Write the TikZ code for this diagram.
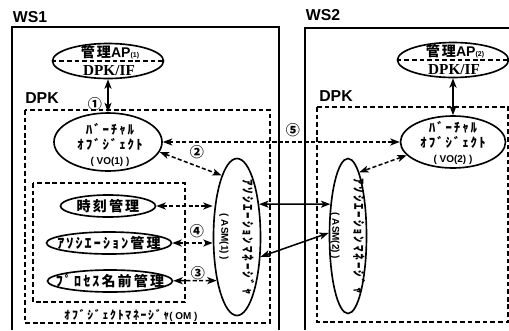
\documentclass[tikz,border=0pt]{standalone}
\usepackage{fontspec}
\setmainfont{Liberation Serif}
\setsansfont{Liberation Sans}
\newfontfamily\jpfont[LetterSpace=15]{Noto Sans CJK JP}
\newfontfamily\jpplain{Noto Sans CJK JP}
\usepackage{tikz}
\usetikzlibrary{arrows.meta, positioning, calc, shapes.geometric}
\tikzset{%
    wsframe/.style={%
        line width=1.7pt
    },
    dpkframe/.style={%
        draw, line width=1.3pt, dash pattern=on 4pt off 2.5pt
    },
    oval/.style 2 args={%
        draw, ellipse, line width=1.4pt,
        minimum width=#1*\xdist cm, minimum height=#2*\ydist cm
    },
    link/.style={%
        line width=1.3pt,
        {Stealth[length=8pt, width=6pt, inset=2pt]}-{Stealth[length=8pt, width=6pt, inset=2pt]}
    },
    dlink/.style={%
        link, dash pattern=on 3.5pt off 2pt
    },
}
\newcommand{\smalltag}[1]{{\sffamily\bfseries\fontsize{8.5}{10}\selectfont #1}}
\newcommand{\apno}[1]{{\sffamily\bfseries\fontsize{6}{7}\selectfont #1}}

\begin{document}
\begin{tikzpicture}[
        every node/.style={inner sep=0},
        wslabel/.style={font=\sffamily\bfseries\fontsize{13.5}{14}\selectfont},
        apif/.style={font=\rmfamily\bfseries\fontsize{13}{14}\selectfont},
        kanji/.style={font=\jpfont\bfseries\fontsize{12}{14}\selectfont},
        kana/.style={font=\jpfont\bfseries\fontsize{11}{13}\selectfont, align=center},
        num/.style={font=\jpplain\bfseries\fontsize{12}{12}\selectfont},
    ]
        \def\xdist{0.03}
        \def\ydist{0.03}

        \useasboundingbox (0,0) rectangle (509*\xdist, -330*\ydist);

        \draw[wsframe] (12*\xdist, -330*\ydist) -- (12*\xdist, -27*\ydist) -- (279*\xdist, -27*\ydist) -- (279*\xdist, -330*\ydist);
        \draw[wsframe] (305*\xdist, -330*\ydist) -- (305*\xdist, -28*\ydist) -- (509*\xdist, -28*\ydist);
        \draw[dpkframe] (25*\xdist, -110*\ydist) rectangle (270*\xdist, -323*\ydist);
        \draw[dpkframe] (317*\xdist, -107*\ydist) rectangle (508*\xdist, -322*\ydist);
        \draw[dpkframe] (33*\xdist, -183*\ydist) rectangle (185*\xdist, -302*\ydist);

        \node[wslabel] (ws1) at (30*\xdist, -17*\ydist) {WS1};
        \node[wslabel] (ws2) at (323*\xdist, -15*\ydist) {WS2};
        \node[wslabel] (dpk1) at (42*\xdist, -98*\ydist) {DPK};
        \node[wslabel] (dpk2) at (336*\xdist, -96*\ydist) {DPK};

        \node[oval={111}{35}] (ap1) at (108*\xdist, -61*\ydist) {};
        \node[kanji] (ap1name) at (110*\xdist, -52*\ydist) {管理{\sffamily AP}\apno{(1)}};
        \node[apif] (ap1if) at (109*\xdist, -71*\ydist) {DPK/IF};
        \draw[dpkframe, line width=1.2pt] (ap1.west) -- (ap1.east);

        \node[oval={111}{35}] (ap2) at (453*\xdist, -60*\ydist) {};
        \node[kanji] (ap2name) at (455*\xdist, -51*\ydist) {管理{\sffamily AP}\apno{(2)}};
        \node[apif] (ap2if) at (454*\xdist, -70*\ydist) {DPK/IF};
        \draw[dpkframe, line width=1.2pt] (ap2.west) -- (ap2.east);

        \node[oval={108}{58}] (vo1) at (108*\xdist, -142*\ydist) {};
        \node[kana] (vo1txt) at (110*\xdist, -145*\ydist) {ﾊﾞｰﾁｬﾙ\\ｵﾌﾞｼﾞｪｸﾄ\\\smalltag{( VO(1) )}};
        \node[oval={105}{52}] (vo2) at (453*\xdist, -142*\ydist) {};
        \node[kana] (vo2txt) at (453*\xdist, -143*\ydist) {ﾊﾞｰﾁｬﾙ\\ｵﾌﾞｼﾞｪｸﾄ\\\smalltag{( VO(2) )}};

        \node[oval={47}{157}] (asm1) at (237*\xdist, -237*\ydist) {};
        \node[kana, rotate=-90] (asm1txt) at (asm1) {ｱｿｼｴｰｼｮﾝﾏﾈｰｼﾞｬ\\[6pt]\smalltag{( ASM(1) )}};
        \node[oval={37}{155}] (asm2) at (348*\xdist, -236*\ydist) {};
        \node[kana, rotate=-90] (asm2txt) at (asm2) {ｱｿｼｴｰｼｮﾝﾏﾈｰｼﾞｬ\\[6pt]\smalltag{( ASM(2) )}};

        \node[oval={95}{22}] (tokei) at (108*\xdist, -206*\ydist) {};
        \node[kanji] (tokeitxt) at (tokei) {時刻管理};
        \node[oval={125}{22}] (assoc) at (109*\xdist, -243*\ydist) {};
        \node[kanji] (assoctxt) at (assoc) {ｱｿｼｴｰｼｮﾝ管理};
        \node[oval={125}{22}] (proc) at (110*\xdist, -281*\ydist) {};
        \node[kanji] (proctxt) at (proc) {ﾌﾟﾛｾｽ名前管理};
        \node[kana, font=\jpfont\bfseries\fontsize{10}{12}\selectfont] (om) at (131*\xdist, -315*\ydist) {ｵﾌﾞｼﾞｪｸﾄﾏﾈｰｼﾞｬ\smalltag{( OM )}};

        \node[num] (n1) at (95*\xdist, -104*\ydist) {①};
        \node[num] (n2) at (197*\xdist, -152*\ydist) {②};
        \node[num] (n3) at (198*\xdist, -273*\ydist) {③};
        \node[num] (n4) at (197*\xdist, -231*\ydist) {④};
        \node[num] (n5) at (293*\xdist, -130*\ydist) {⑤};

        \draw[link] (ap1) to (vo1);
        \draw[link] (ap2) to (vo2);
        \draw[dlink] (vo1) to (vo2);
        \draw[dlink] (vo1.-11) to (asm1.104);
        \draw[dlink] (vo2.196) to (asm2.80);
        \draw[dlink] (tokei) to (tokei -| asm1.west);
        \draw[dlink] (assoc) to (assoc -| asm1.west);
        \draw[dlink] (proc) to (asm1.245);
        \draw[link] (asm1.56) to (asm2.119);
        \draw[link] (asm1.-40) to (asm2.171);

    \end{tikzpicture}
\end{document}
